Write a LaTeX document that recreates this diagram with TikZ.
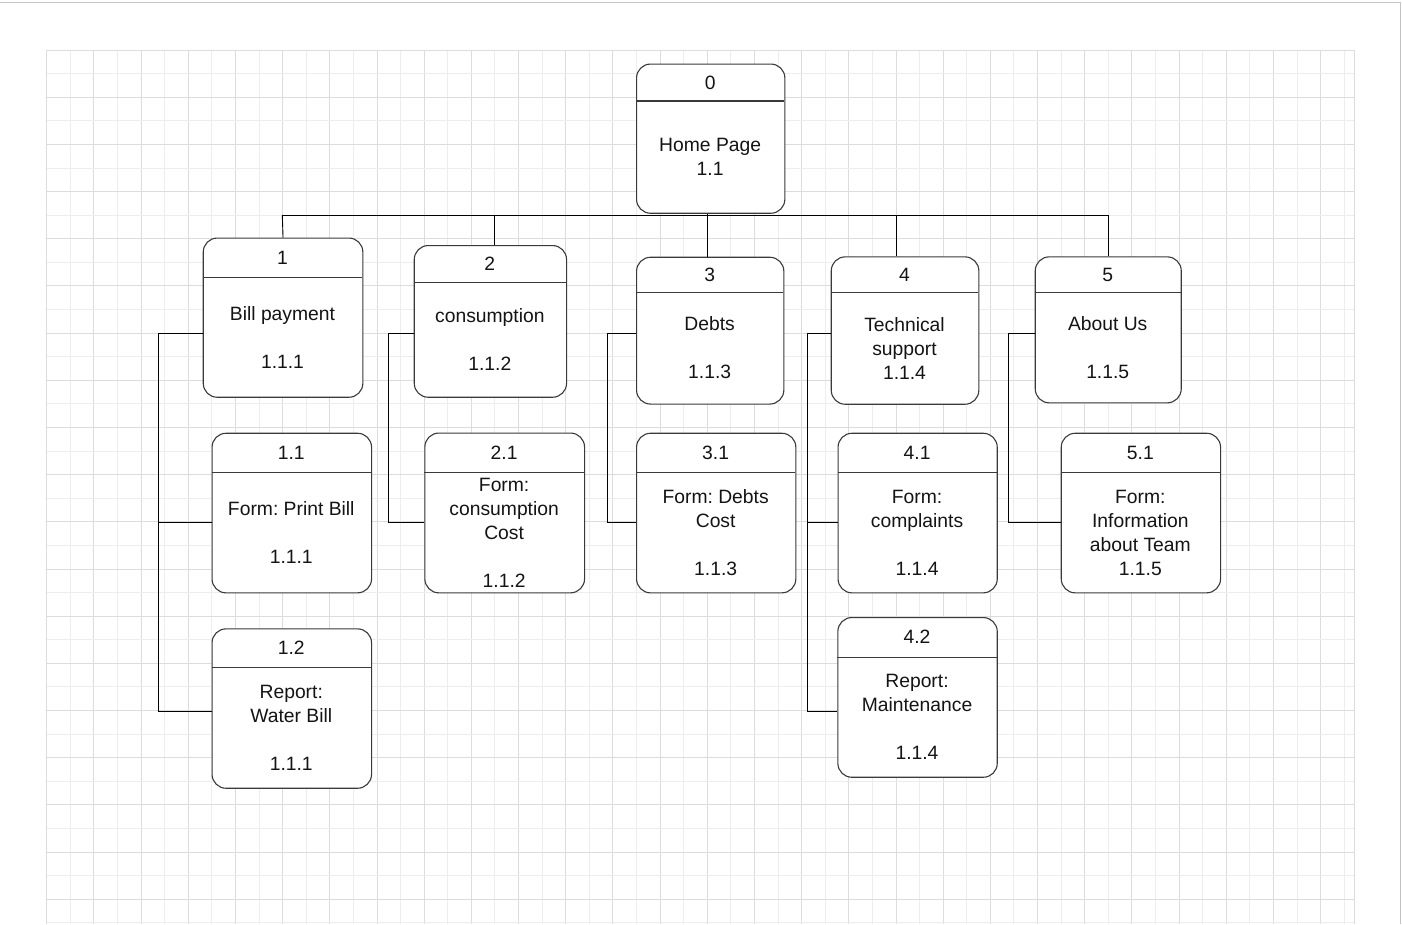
\documentclass[tikz,border=0pt]{standalone}
\usepackage{fontspec}
\setmainfont{Liberation Sans}
\frenchspacing
\definecolor{gminor}{HTML}{EDEDED}
\definecolor{gmajor}{HTML}{DCDCDC}
\definecolor{frame}{HTML}{C4C4C4}
\definecolor{boxline}{HTML}{3A3A3A}
\definecolor{txt}{HTML}{141414}
\newcommand\ls{\rule[-5.2pt]{0pt}{24pt}}
\tikzset{
  pbox/.style={draw=boxline, line width=1.1pt, rounded corners=14pt, fill=white, inner sep=0pt, anchor=north west},
  pline/.style={draw=boxline, line width=1.1pt},
  ttext/.style={text=txt, align=center, inner sep=0pt, font=\fontsize{19.3}{24}\selectfont\frenchspacing},
  conn/.style={draw=black, line width=0.9pt},
}
\newcommand\dbox[8]{%
  \node[pbox, minimum width={#4-#2}, minimum height={#5-#3}] (#1) at (#2,#3) {};
  \draw[pline] (#2,#6) -- (#4,#6);
  \node[ttext] (#1-h) at ({(#2+#4)/2},{(#3+#6)/2}) {\ls #7};
  \node[ttext] (#1-b) at ({(#2+#4)/2},{(#6+#5)/2}) {#8};
}
\begin{document}
\begin{tikzpicture}[x=1pt,y=-1pt]
\useasboundingbox (0,0) rectangle (1402,924);
\fill[white] (0,0) rectangle (1402,924);
% grid
\foreach \i in {0,...,55}{
  \pgfmathsetmacro\gx{46.7+23.59*\i}
  \ifodd\i \draw[gminor, line width=0.9pt] (\gx,50) -- (\gx,924);
  \else \draw[gmajor, line width=0.9pt] (\gx,50) -- (\gx,924); \fi
}
\foreach \j in {0,...,37}{
  \pgfmathsetmacro\gy{50+23.59*\j}
  \ifodd\j \draw[gminor, line width=0.9pt] (46.7,\gy) -- (1354.3,\gy);
  \else \draw[gmajor, line width=0.9pt] (46.7,\gy) -- (1354.3,\gy); \fi
}
\draw[gmajor, line width=0.9pt] (1354.3,50) -- (1354.3,924);
% page frame
\draw[frame, line width=1.6pt] (0,2.3) -- (1400.5,2.3) -- (1400.5,924);

% junction points of the connectors
\coordinate (b1) at (282.3,215);
\coordinate (b2) at (494.7,215);
\coordinate (b3) at (707.3,215);
\coordinate (b4) at (896.7,215);
\coordinate (b5) at (1108.3,215);
\coordinate (l1) at (158.3,333.3);
\coordinate (k11) at (158.3,522.5);
\coordinate (k12) at (158.3,711);
\coordinate (l2) at (388.3,333.7);
\coordinate (k21) at (388.3,522);
\coordinate (l3) at (607.3,333.7);
\coordinate (k31) at (607.3,522);
\coordinate (l4) at (807.3,333.7);
\coordinate (k41) at (807.3,522.3);
\coordinate (k42) at (807.3,711);
\coordinate (l5) at (1008.3,333.7);
\coordinate (k51) at (1008.3,522.3);

% boxes
\dbox{n0}{636}{63.5}{784.3}{212.7}{101}{0}{\ls Home Page\\\ls 1.1}
\dbox{n1}{202.7}{237.5}{362.3}{396.7}{277.7}{1}{\ls Bill payment\\\ls\\\ls 1.1.1}
\dbox{n2}{413.7}{245}{566}{396.7}{282.7}{2}{\ls consumption\\\ls\\\ls 1.1.2}
\dbox{n3}{636}{256.7}{783.3}{403.5}{292.7}{3}{\ls Debts\\\ls\\\ls 1.1.3}
\dbox{n4}{830.7}{256.3}{978.3}{403.7}{292.7}{4}{\ls Technical\\\ls support\\\ls 1.1.4}
\dbox{n5}{1034.7}{256.3}{1180.7}{402.3}{292.7}{5}{\ls About Us\\\ls\\\ls 1.1.5}
\dbox{n11}{211.5}{432.7}{371}{592.3}{472.3}{1.1}{\ls Form: Print Bill\\\ls\\\ls 1.1.1}
\dbox{n12}{211.5}{628.3}{371}{787.7}{667.7}{1.2}{\ls Report:\\\ls Water Bill\\\ls\\\ls 1.1.1}
\dbox{n21}{424.3}{432.5}{584}{592.3}{472.5}{2.1}{\ls Form:\\\ls consumption\\\ls Cost\\\ls\\\ls 1.1.2}
\dbox{n31}{636}{432.7}{795.3}{592.3}{472.3}{3.1}{\ls Form: Debts\\\ls Cost\\\ls\\\ls 1.1.3}
\dbox{n41}{837.5}{432.7}{996.7}{592.3}{472.3}{4.1}{\ls Form:\\\ls complaints\\\ls\\\ls 1.1.4}
\dbox{n42}{837.3}{617}{996.7}{776.7}{657.3}{4.2}{\ls Report:\\\ls Maintenance\\\ls\\\ls 1.1.4}
\dbox{n51}{1060.7}{432.7}{1220}{592.3}{472.3}{5.1}{\ls Form:\\\ls Information\\\ls about Team\\\ls 1.1.5}

% tree connectors
\draw[conn] (b1) -- (b5);
\draw[conn] (b3 |- n0.south) -- (b3) -- (b3 |- n3.north);
\draw[conn] (b1) -- (n1.north);
\draw[conn] (b2) -- (b2 |- n2.north);
\draw[conn] (b4) -- (b4 |- n4.north);
\draw[conn] (b5) -- (b5 |- n5.north);
% side branches
\draw[conn] (n1.west |- l1) -- (l1) -- (k12) -- (k12 -| n12.west);
\draw[conn] (k11) -- (k11 -| n11.west);
\draw[conn] (n2.west |- l2) -- (l2) -- (k21) -- (k21 -| n21.west);
\draw[conn] (n3.west |- l3) -- (l3) -- (k31) -- (k31 -| n31.west);
\draw[conn] (n4.west |- l4) -- (l4) -- (k42) -- (k42 -| n42.west);
\draw[conn] (k41) -- (k41 -| n41.west);
\draw[conn] (n5.west |- l5) -- (l5) -- (k51) -- (k51 -| n51.west);
\end{tikzpicture}
\end{document}
